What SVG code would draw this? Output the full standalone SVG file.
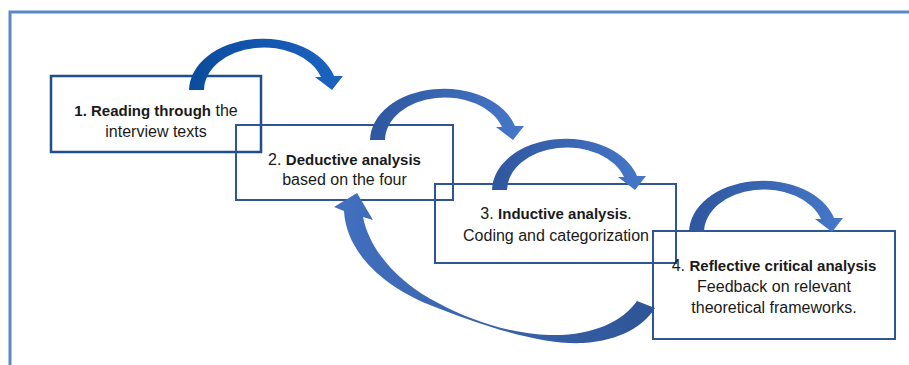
<svg xmlns="http://www.w3.org/2000/svg" xmlns:xlink="http://www.w3.org/1999/xlink" width="909" height="365" viewBox="0 0 909 365">
  <style>
    .box { fill: none; stroke: #2f5597; stroke-width: 2; }
    .box1 { stroke: #1f4e8c; stroke-width: 2.5; }
    .lbl { font-family: "Liberation Sans", Arial, sans-serif; font-size: 16px; fill: #1a1a1a; text-anchor: middle; }
    .b { font-weight: bold; font-size: 15px; }
  </style>
  <defs>
    <linearGradient id="g1" x1="0" y1="0" x2="1" y2="0">
      <stop offset="0" stop-color="#0b4b9b"/>
      <stop offset="1" stop-color="#1c63c2"/>
    </linearGradient>
    <linearGradient id="g2" x1="0" y1="0" x2="1" y2="0">
      <stop offset="0" stop-color="#2e579e"/>
      <stop offset="1" stop-color="#4677c9"/>
    </linearGradient>
    <linearGradient id="g3" x1="0" y1="0" x2="1" y2="0">
      <stop offset="0" stop-color="#4270bf"/>
      <stop offset="1" stop-color="#2f5597"/>
    </linearGradient>
    <path id="curve" d="M189,90 A74,52 0 0 1 334,76 L343,76 L332,90 L315,77 L321,77 A60,43 0 0 0 204,90 Z"/>
  </defs>

  <g id="frame">
    <rect x="10" y="12" width="1000" height="500" fill="none" stroke="#5a8ac6" stroke-width="3"/>
  </g>

  <g id="node1">
    <rect class="box box1" x="51" y="76" width="210" height="76"/>
    <text class="lbl" x="156" y="116"><tspan class="b">1. Reading through</tspan> the</text>
    <text class="lbl" x="156" y="137">interview texts</text>
  </g>

  <g id="node2">
    <rect class="box" x="236" y="125" width="217" height="75"/>
    <text class="lbl" x="344.5" y="165">2. <tspan class="b">Deductive analysis</tspan></text>
    <text class="lbl" x="344.5" y="185">based on the four</text>
  </g>

  <g id="node3">
    <rect class="box" x="435" y="184" width="241" height="79"/>
    <text class="lbl" x="556" y="219">3. <tspan class="b">Inductive analysis</tspan>.</text>
    <text class="lbl" x="556" y="241">Coding and categorization</text>
  </g>

  <g id="node4">
    <rect class="box" x="653" y="231" width="242" height="108"/>
    <text class="lbl" x="774" y="271">4. <tspan class="b">Reflective critical analysis</tspan></text>
    <text class="lbl" x="774" y="292">Feedback on relevant</text>
    <text class="lbl" x="774" y="313">theoretical frameworks.</text>
  </g>

  <g id="connectors">
    <use xlink:href="#curve" href="#curve" fill="url(#g1)"/>
    <use xlink:href="#curve" href="#curve" fill="url(#g2)" transform="translate(181,50)"/>
    <use xlink:href="#curve" href="#curve" fill="url(#g2)" transform="translate(303,100)"/>
    <use xlink:href="#curve" href="#curve" fill="url(#g2)" transform="translate(500,142)"/>
    <path id="back-arrow" fill="url(#g3)" d="M344,211 C346,250 380,285 430,305 C480,325 540,345 583,343 C620,341 645,325 655,308 L637,301 C622,322 592,336 550,335 C510,334 470,320 440,304 C400,284 370,252 363,217 L373,220 L357,193 L334,207 Z"/>
  </g>
</svg>
